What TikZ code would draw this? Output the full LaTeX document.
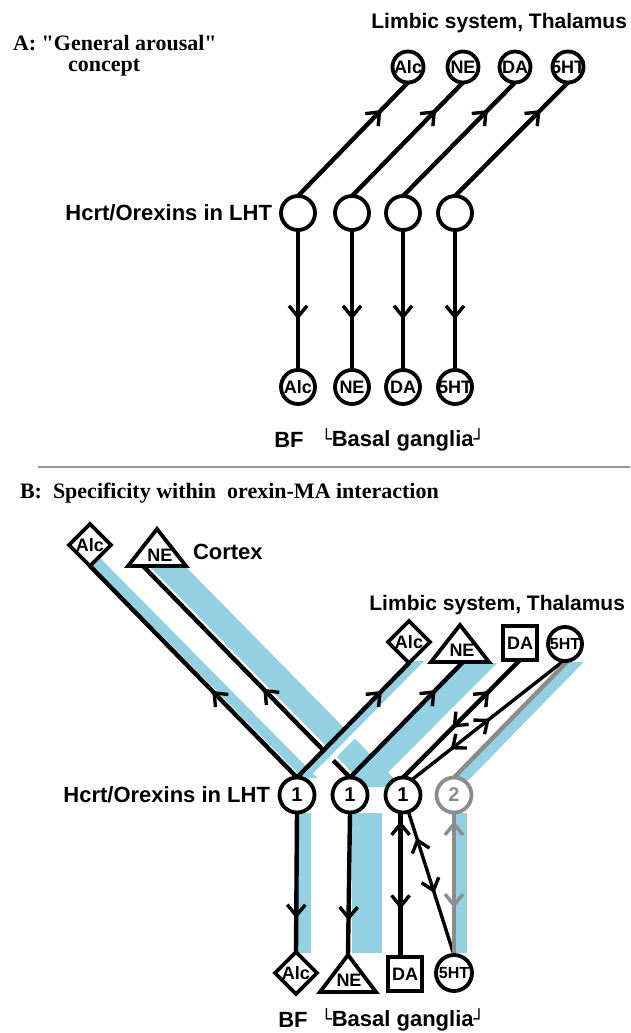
\documentclass[tikz,border=0pt]{standalone}
\usepackage{fontspec}
\setmainfont{Liberation Serif}
\setsansfont{Liberation Sans}
\newfontfamily\titlefont{Liberation Serif}
\newfontfamily\dejavu{DejaVu Sans}
\usetikzlibrary{shapes.geometric,arrows.meta,decorations.markings,calc}
\pgfdeclarelayer{bands}
\pgfdeclarelayer{lines}
\pgfsetlayers{bands,lines,main}
\definecolor{bandblue}{RGB}{146,208,226}
\definecolor{grayline}{RGB}{140,140,140}
\definecolor{sepgray}{RGB}{150,150,150}
\newcommand{\lcornr}{\raisebox{0.5pt}{\dejavu\fontsize{18}{18}\selectfont └}}
\newcommand{\rcornr}{\raisebox{0.5pt}{\dejavu\fontsize{18}{18}\selectfont ┘}}
\tikzset{
  every node/.style={inner sep=0pt, outer sep=0pt},
  serifbig/.style={font=\titlefont\bfseries\fontsize{22}{22}\selectfont},
  sansbig/.style={font=\sffamily\bfseries\fontsize{22}{22}\selectfont},
  sanslim/.style={font=\sffamily\bfseries\fontsize{21}{21}\selectfont},
  lab/.style={font=\sffamily\bfseries\fontsize{18}{18}\selectfont},
  labsm/.style={font=\sffamily\bfseries\fontsize{16}{16}\selectfont},
  numlab/.style={font=\sffamily\bfseries\fontsize{20}{20}\selectfont},
  ring/.style={circle, draw, line width=3.8pt, fill=white, minimum size=#1},
  diam/.style={diamond, draw, line width=3.8pt, fill=white, minimum width=42pt, minimum height=42pt},
  sqbox/.style={rectangle, draw, line width=3.8pt, fill=white, minimum size=34pt},
  tri/.style={draw, line width=3.8pt, fill=white, line join=miter},
  conn/.style={line width=4.4pt},
  thinconn/.style={line width=3.4pt},
  fwd/.style={postaction={decorate, decoration={markings, mark=at position #1 with {\draw[line width=3.4pt, line join=miter] (-11pt,9pt) -- (0pt,0pt) -- (-11pt,-9pt);}}}},
  bwd/.style={postaction={decorate, decoration={markings, mark=at position #1 with {\draw[line width=3.4pt, line join=miter] (11pt,9pt) -- (0pt,0pt) -- (11pt,-9pt);}}}},
}
\begin{document}
\begin{tikzpicture}[x=1pt,y=-1pt]
\useasboundingbox (0,0) rectangle (630,1033);

% ================= Part A =================
\node[serifbig, anchor=west] (tA) at (13,43) {A: "General arousal"};
\node[serifbig, anchor=west] (tAc) at (68,68) {concept};
\node[sanslim, anchor=east] (tAlim) at (627,23) {Limbic system, Thalamus};
\node[sansbig, anchor=east] (tAh) at (272,213) {Hcrt/Orexins in LHT};
\node[sansbig] (tABF) at (289,440) {BF};
\node[sansbig, anchor=west] (tABG) at (321,440) {\lcornr Basal ganglia\rcornr};

\node[ring=31pt, label={[lab]center:Alc}] (aT1) at (408,67) {};
\node[ring=31pt, label={[lab]center:NE}] (aT2) at (463,67) {};
\node[ring=31pt, label={[lab]center:DA}] (aT3) at (515,67) {};
\node[ring=31pt, label={[lab]center:5HT}] (aT4) at (568,67) {};

\node[ring=34pt] (aH1) at (298,213) {};
\node[ring=34pt] (aH2) at (352,213) {};
\node[ring=34pt] (aH3) at (403,213) {};
\node[ring=34pt] (aH4) at (455,213) {};

\node[ring=34pt, label={[lab]center:Alc}] (aB1) at (298,387) {};
\node[ring=34pt, label={[lab]center:NE}] (aB2) at (352,387) {};
\node[ring=34pt, label={[lab]center:DA}] (aB3) at (403,387) {};
\node[ring=34pt, label={[lab]center:5HT}] (aB4) at (455,387) {};

\begin{pgfonlayer}{lines}
\draw[conn, fwd=0.74] (aH1.north) -- (aT1.south);
\draw[conn, fwd=0.74] (aH2.north) -- (aT2.south);
\draw[conn, fwd=0.74] (aH3.north) -- (aT3.south);
\draw[conn, fwd=0.74] (aH4.north) -- (aT4.south);
\draw[conn, fwd=0.62] (aH1.south) -- (aB1.north);
\draw[conn, fwd=0.62] (aH2.south) -- (aB2.north);
\draw[conn, fwd=0.62] (aH3.south) -- (aB3.north);
\draw[conn, fwd=0.62] (aH4.south) -- (aB4.north);
\end{pgfonlayer}

\draw[sepgray, line width=1.5pt] (38,467) -- (630,467);

% ================= Part B =================
\node[serifbig, anchor=west] (tB) at (20,493) {B:\ \ Specificity within\ \ orexin-MA interaction};
\node[sansbig, anchor=west] (tCx) at (193,552) {Cortex};
\node[sanslim, anchor=east] (tBlim) at (625,605) {Limbic system, Thalamus};
\node[sansbig, anchor=east] (tBh) at (270,795) {Hcrt/Orexins in LHT};
\node[sansbig] (tBBF) at (293,1020) {BF};
\node[sansbig, anchor=west] (tBBG) at (321,1020) {\lcornr Basal ganglia\rcornr};

% cortex targets
\node[diam, label={[lab]center:Alc}] (cAlc) at (90,545) {};
\draw[tri] (157,529) -- (186,566) -- (128,566) -- cycle;
\node[lab] (cNE) at (160,555) {NE};
\coordinate (cNEb) at (143,566);

% limbic targets
\node[diam, label={[lab]center:Alc}] (lAlc) at (409,642) {};
\draw[tri] (460,625) -- (489,662) -- (431,662) -- cycle;
\node[lab] (lNE) at (462,650) {NE};
\coordinate (lNEb) at (463,662);
\node[sqbox, label={[lab]center:DA}] (lDA) at (520,643) {};
\node[ring=34pt, label={[labsm]center:5HT}] (l5) at (565,644) {};

% orexin neurons
\node[ring=35pt, label={[numlab]center:1}] (bH1) at (297,795) {};
\node[ring=35pt, label={[numlab]center:1}] (bH2) at (350,795) {};
\node[ring=35pt, label={[numlab]center:1}] (bH3) at (403,795) {};
\node[ring=35pt, draw=grayline, label={[numlab, text=grayline]center:2}] (bH4) at (454,795) {};

% bottom targets
\node[diam, label={[lab]center:Alc}] (bAlc) at (296,973) {};
\draw[tri] (348,955) -- (376,992) -- (320,992) -- cycle;
\node[lab] (bNE) at (349,980) {NE};
\coordinate (bNEt) at (348,955);
\node[sqbox, label={[lab]center:DA}] (bDA) at (405,974) {};
\node[ring=36pt, label={[labsm]center:5HT}] (b5) at (454,973) {};

% blue bands
\begin{pgfonlayer}{bands}
\fill[bandblue] (75.2,548) -- (90.2,548) -- (317.5,778) -- (302.5,778) -- cycle;
\fill[bandblue] (149,566) -- (185,566) -- (402.4,787) -- (366.4,787) -- cycle;
\fill[bandblue] (465,663) -- (497,663) -- (373.5,787) -- (341.5,787) -- cycle;
\fill[bandblue] (567.7,662) -- (583.7,662) -- (468.6,780) -- (452.6,780) -- cycle;
\fill[bandblue] (298,813) rectangle (311,953);
\fill[bandblue] (352,813) rectangle (382,953);
\fill[bandblue] (452,813) rectangle (467,953);
\end{pgfonlayer}

\begin{pgfonlayer}{lines}
\draw[conn, fwd=0.4] (bH1.north) -- (cAlc.south);
\draw[conn, fwd=0.41] (bH2.north) -- (cNEb);
\draw[white, line width=6pt] (324.4,765) -- (398.4,690);
\fill[bandblue] (412.5,661) -- (424,661) -- (308.5,778) -- (297,778) -- cycle;
\draw[conn, fwd=0.74] (bH1.north) -- (lAlc.south);
\draw[conn, fwd=0.74] (bH2.north) -- (lNEb);
\draw[conn, fwd=0.72, bwd=0.44] (bH3.north) -- (lDA.south);
\draw[thinconn, fwd=0.5, bwd=0.27] (bH3.60) -- (l5.-95);
\draw[conn, grayline] (bH4.north) -- (l5.-80);
\draw[conn, fwd=0.74] (bH1.south) -- (bAlc.north);
\draw[conn, fwd=0.74] (bH2.south) -- (bNEt);
\draw[conn, bwd=0.08, fwd=0.65] (bH3.-98) -- (bH3.-98 |- bDA.north);
\draw[thinconn, bwd=0.2, fwd=0.55] (bH3.-72) -- (b5.north);
\draw[conn, grayline, bwd=0.08, fwd=0.65] (bH4.south) -- (b5.north);
\end{pgfonlayer}
\end{tikzpicture}
\end{document}
